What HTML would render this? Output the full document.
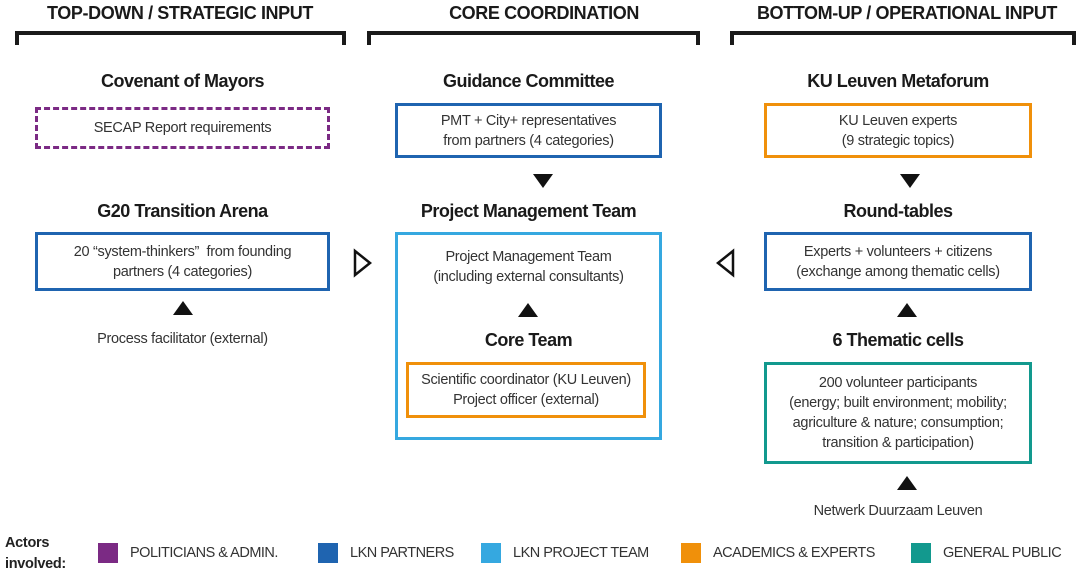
<!DOCTYPE html>
<html><head><meta charset="utf-8"><style>
body{margin:0;width:1084px;height:581px;background:#fff;position:relative;overflow:hidden;font-family:"Liberation Sans",sans-serif;color:#222}
.a{position:absolute}
.h{font-weight:bold;font-size:18px;text-align:center;letter-spacing:-0.4px;color:#1a1a1a}
.br{border:4px solid #1a1a1a;border-bottom:none;height:10px}
.t{font-weight:bold;font-size:18px;text-align:center;letter-spacing:-0.5px;color:#1a1a1a}
.b{display:flex;align-items:center;justify-content:center;text-align:center;font-size:14.5px;line-height:20px;box-sizing:border-box;letter-spacing:-0.3px;color:#333}
.tx{font-size:14.5px;text-align:center;letter-spacing:-0.3px;color:#333}
.dn{width:0;height:0;border-left:10px solid transparent;border-right:10px solid transparent;border-top:14px solid #111}
.up{width:0;height:0;border-left:10px solid transparent;border-right:10px solid transparent;border-bottom:14px solid #111}
.sq{width:20px;height:20px}
.lg{font-size:14.5px;letter-spacing:-0.5px;color:#333}
</style></head><body>
<div class="a h" style="left:0;top:3px;width:360px">TOP-DOWN / STRATEGIC INPUT</div>
<div class="a h" style="left:378px;top:3px;width:332px">CORE COORDINATION</div>
<div class="a h" style="left:730px;top:3px;width:354px">BOTTOM-UP / OPERATIONAL INPUT</div>
<div class="a br" style="left:15px;top:31px;width:323px"></div>
<div class="a br" style="left:367px;top:31px;width:325px"></div>
<div class="a br" style="left:730px;top:31px;width:338px"></div>

<div class="a t" style="left:35px;top:71px;width:295px">Covenant of Mayors</div>
<div class="a t" style="left:395px;top:71px;width:267px">Guidance Committee</div>
<div class="a t" style="left:764px;top:71px;width:268px">KU Leuven Metaforum</div>

<div class="a b" style="left:35px;top:107px;width:295px;height:42px;border:3px dashed #7b2a84">SECAP Report requirements</div>
<div class="a b" style="left:395px;top:103px;width:267px;height:55px;border:3px solid #1f64b0">PMT + City+ representatives<br>from partners (4 categories)</div>
<div class="a b" style="left:764px;top:103px;width:268px;height:55px;border:3px solid #f0900a">KU Leuven experts<br>(9 strategic topics)</div>

<div class="a dn" style="left:533px;top:174px"></div>
<div class="a dn" style="left:900px;top:174px"></div>

<div class="a t" style="left:35px;top:201px;width:295px">G20 Transition Arena</div>
<div class="a t" style="left:395px;top:201px;width:267px">Project Management Team</div>
<div class="a t" style="left:764px;top:201px;width:268px">Round-tables</div>

<div class="a b" style="left:35px;top:232px;width:295px;height:59px;border:3px solid #1f64b0">20 “system-thinkers”&nbsp; from founding<br>partners (4 categories)</div>
<div class="a" style="left:395px;top:232px;width:267px;height:208px;border:3px solid #35a8e0;box-sizing:border-box"></div>
<div class="a tx" style="left:395px;top:247px;width:267px;line-height:20px">Project Management Team<br>(including external consultants)</div>
<div class="a b" style="left:764px;top:232px;width:268px;height:59px;border:3px solid #1f64b0">Experts + volunteers + citizens<br>(exchange among thematic cells)</div>

<svg class="a" style="left:350px;top:248px" width="24" height="30"><polygon points="5,3 20,15 5,27" fill="#fff" stroke="#111" stroke-width="2.5"/></svg>
<svg class="a" style="left:714px;top:248px" width="24" height="30"><polygon points="19,3 4,15 19,27" fill="#fff" stroke="#111" stroke-width="2.5"/></svg>

<div class="a up" style="left:173px;top:301px"></div>
<div class="a up" style="left:518px;top:303px"></div>
<div class="a up" style="left:897px;top:303px"></div>

<div class="a tx" style="left:35px;top:331px;width:295px">Process facilitator (external)</div>
<div class="a t" style="left:395px;top:330px;width:267px">Core Team</div>
<div class="a t" style="left:764px;top:330px;width:268px">6 Thematic cells</div>

<div class="a b" style="left:406px;top:362px;width:240px;height:56px;border:3px solid #f0900a">Scientific coordinator (KU Leuven)<br>Project officer (external)</div>
<div class="a b" style="left:764px;top:362px;width:268px;height:102px;border:3px solid #12998e">200 volunteer participants<br>(energy; built environment; mobility;<br>agriculture &amp; nature; consumption;<br>transition &amp; participation)</div>

<div class="a up" style="left:897px;top:476px"></div>
<div class="a tx" style="left:764px;top:503px;width:268px">Netwerk Duurzaam Leuven</div>

<div class="a" style="left:5px;top:533px;font-weight:bold;font-size:14.5px;line-height:21px;color:#222;letter-spacing:-0.3px">Actors<br>involved:</div>
<div class="a sq" style="left:98px;top:543px;background:#7b2a84"></div>
<div class="a lg" style="left:130px;top:545px">POLITICIANS &amp; ADMIN.</div>
<div class="a sq" style="left:318px;top:543px;background:#1f64b0"></div>
<div class="a lg" style="left:350px;top:545px">LKN PARTNERS</div>
<div class="a sq" style="left:481px;top:543px;background:#35a8e0"></div>
<div class="a lg" style="left:513px;top:545px">LKN PROJECT TEAM</div>
<div class="a sq" style="left:681px;top:543px;background:#f0900a"></div>
<div class="a lg" style="left:713px;top:545px">ACADEMICS &amp; EXPERTS</div>
<div class="a sq" style="left:911px;top:543px;background:#12998e"></div>
<div class="a lg" style="left:943px;top:545px">GENERAL PUBLIC</div>
</body></html>
